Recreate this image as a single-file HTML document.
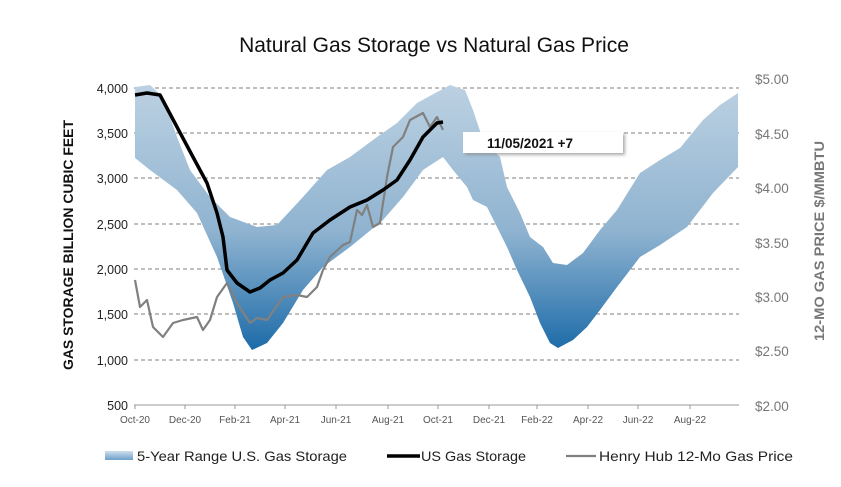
<!DOCTYPE html>
<html><head><meta charset="utf-8"><style>
html,body{margin:0;padding:0;background:#fff;}
svg{display:block;font-family:"Liberation Sans",sans-serif;}
</style></head><body>
<svg width="841" height="487" viewBox="0 0 841 487" xmlns="http://www.w3.org/2000/svg">
<defs>
<linearGradient id="g" gradientUnits="userSpaceOnUse" x1="0" y1="85" x2="0" y2="352">
<stop offset="0" stop-color="#bcd1e2"/><stop offset="0.55" stop-color="#8fb3d0"/><stop offset="1" stop-color="#1a6aa8"/>
</linearGradient>
<linearGradient id="lg" x1="0" y1="0" x2="0" y2="1"><stop offset="0" stop-color="#cfe0ee"/><stop offset="1" stop-color="#6d9fc9"/></linearGradient>
<filter id="sh" x="-10%" y="-20%" width="130%" height="160%"><feDropShadow dx="2" dy="2" stdDeviation="1.5" flood-color="#888" flood-opacity="0.7"/></filter>
</defs>
<text x="434" y="52" text-anchor="middle" font-size="21" fill="#111">Natural Gas Storage vs Natural Gas Price</text>
<g stroke="#555" stroke-dasharray="4,3" stroke-width="0.8">
<line x1="134" y1="88" x2="739" y2="88"/><line x1="134" y1="133" x2="739" y2="133"/><line x1="134" y1="178" x2="739" y2="178"/><line x1="134" y1="224" x2="739" y2="224"/><line x1="134" y1="269" x2="739" y2="269"/><line x1="134" y1="314" x2="739" y2="314"/><line x1="134" y1="360" x2="739" y2="360"/>
</g>
<path fill="url(#g)" d="M135,87 L150,85 L163,97 L177,137 L190,170 L210,197 L230,217 L257,227 L277,225 L303,197 L327,170 L350,157 L377,137 L397,123 L417,103 L450,85 L465,90 L473,110 L483,140 L500,157 L507,187 L520,213 L530,237 L543,247 L553,263 L567,265 L583,253 L600,230 L617,210 L640,173 L660,160 L680,148 L703,120 L720,105 L738,93 L738,167 L713,193 L687,227 L660,245 L640,257 L617,287 L600,310 L587,327 L573,340 L558,348 L550,343 L540,323 L530,297 L517,270 L507,247 L497,227 L487,207 L473,200 L467,187 L453,170 L443,157 L423,170 L403,197 L383,220 L350,247 L323,267 L303,290 L283,323 L267,343 L252,350 L243,337 L233,303 L217,257 L197,213 L177,190 L150,170 L135,158 Z"/>
<line x1="134" y1="405" x2="739" y2="405" stroke="#999" stroke-width="1"/>
<g stroke="#999"><line x1="135" y1="405" x2="135" y2="409"/><line x1="185" y1="405" x2="185" y2="409"/><line x1="235" y1="405" x2="235" y2="409"/><line x1="285" y1="405" x2="285" y2="409"/><line x1="336" y1="405" x2="336" y2="409"/><line x1="388" y1="405" x2="388" y2="409"/><line x1="438" y1="405" x2="438" y2="409"/><line x1="489" y1="405" x2="489" y2="409"/><line x1="537" y1="405" x2="537" y2="409"/><line x1="588" y1="405" x2="588" y2="409"/><line x1="638" y1="405" x2="638" y2="409"/><line x1="690" y1="405" x2="690" y2="409"/></g>
<polyline fill="none" stroke="#808080" stroke-width="2.2" stroke-linejoin="round" points="135,280 140,307 147,300 153,327 163,337 173,323 183,320 197,317 203,330 210,320 217,297 227,283 237,303 250,323 257,318 267,320 283,297 297,295 307,297 317,287 323,270 330,257 343,245 350,242 357,210 362,215 367,205 373,227 380,223 387,177 393,147 403,137 410,120 423,113 430,127 437,117 443,130"/>
<polyline fill="none" stroke="#000" stroke-width="3.5" stroke-linejoin="round" points="135,95 147,93 160,95 177,127 193,157 207,183 217,213 223,237 227,270 237,283 250,292 260,288 270,280 283,273 297,260 313,233 330,220 350,207 367,200 383,190 397,180 410,160 423,137 437,123 443,122"/>
<rect x="463" y="132" width="160" height="21" fill="#fff" filter="url(#sh)"/>
<text x="530" y="148" text-anchor="middle" font-size="13.5" font-weight="bold" fill="#111">11/05/2021  +7</text>
<g font-size="12.5" fill="#222" text-anchor="end">
<text x="128" y="93">4,000</text><text x="128" y="138">3,500</text><text x="128" y="183">3,000</text><text x="128" y="229">2,500</text><text x="128" y="274">2,000</text><text x="128" y="319">1,500</text><text x="128" y="365">1,000</text><text x="128" y="410">500</text>
</g>
<g font-size="13.5" fill="#777">
<text x="755" y="84">$5.00</text><text x="755" y="139">$4.50</text><text x="755" y="193">$4.00</text><text x="755" y="248">$3.50</text><text x="755" y="302">$3.00</text><text x="755" y="356">$2.50</text><text x="755" y="411">$2.00</text>
</g>
<g font-size="10" fill="#555" text-anchor="middle">
<text x="135" y="423">Oct-20</text><text x="185" y="423">Dec-20</text><text x="235" y="423">Feb-21</text><text x="285" y="423">Apr-21</text><text x="336" y="423">Jun-21</text><text x="388" y="423">Aug-21</text><text x="438" y="423">Oct-21</text><text x="489" y="423">Dec-21</text><text x="537" y="423">Feb-22</text><text x="588" y="423">Apr-22</text><text x="638" y="423">Jun-22</text><text x="690" y="423">Aug-22</text>
</g>
<text transform="translate(73,245) rotate(-90)" text-anchor="middle" font-size="13.5" font-weight="bold" fill="#111" textLength="250" lengthAdjust="spacingAndGlyphs">GAS STORAGE BILLION CUBIC FEET</text>
<text transform="translate(824,241) rotate(-90)" text-anchor="middle" font-size="14" font-weight="bold" fill="#777" textLength="200" lengthAdjust="spacingAndGlyphs">12-MO GAS PRICE $/MMBTU</text>
<rect x="105" y="451" width="28" height="9" fill="url(#lg)"/>
<text x="137" y="461" font-size="14" fill="#222" textLength="210" lengthAdjust="spacingAndGlyphs">5-Year Range U.S. Gas Storage</text>
<line x1="387" y1="456" x2="420" y2="456" stroke="#000" stroke-width="3.5"/>
<text x="421" y="461" font-size="14" fill="#222" textLength="105" lengthAdjust="spacingAndGlyphs">US Gas Storage</text>
<line x1="566" y1="456" x2="596" y2="456" stroke="#808080" stroke-width="2.2"/>
<text x="599" y="461" font-size="14" fill="#222" textLength="194" lengthAdjust="spacingAndGlyphs">Henry Hub 12-Mo Gas Price</text>
</svg>
</body></html>
